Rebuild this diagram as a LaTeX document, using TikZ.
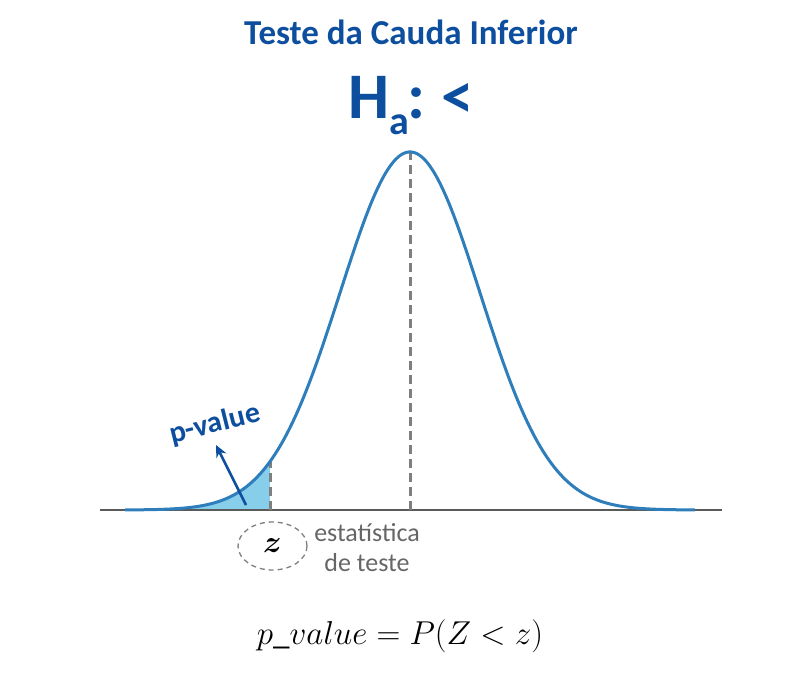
\documentclass[tikz,border=0pt]{standalone}
\usepackage{fontspec}
\usepackage{amsmath}
\setmainfont{Carlito}
\usetikzlibrary{arrows.meta,shapes.geometric}
\definecolor{titleblue}{HTML}{0D4F9E}
\definecolor{curveblue}{HTML}{2E7EBB}
\definecolor{tailfill}{HTML}{87CEEB}
\definecolor{axisgray}{HTML}{5A5A5A}
\definecolor{dashgray}{HTML}{7F7F7F}
\definecolor{txtgray}{HTML}{666666}
\tikzset{
  curve/.style={curveblue, line width=3pt},
  guide/.style={dashgray, line width=3pt, dash pattern=on 9pt off 5pt},
  axisline/.style={axisgray, line width=1.5pt},
  titletxt/.style={text=titleblue, font=\bfseries\fontsize{35}{40}\selectfont},
  grayTxt/.style={text=txtgray, font=\fontsize{26}{30}\selectfont, align=center},
}
\begin{document}
\begin{tikzpicture}[x=1pt,y=-1pt]
\useasboundingbox (0,0) rectangle (800,672);
% tail fill
\fill[tailfill] plot[domain=-4.07:-2, samples=80] ({410+70*\x},{510-358*exp(-(\x)^2/2)}) -- (270,510) -- (125,510) -- cycle;
% axis
\draw[axisline] (100,510) coordinate (axL) -- (722,510) coordinate (axR);
% guides
\coordinate (ztop) at (270,462);
\coordinate (zbot) at (270,510);
\coordinate (mtop) at (410,152);
\coordinate (mbot) at (410,510);
\draw[guide] (zbot) -- (ztop);
\draw[guide] (mbot) -- (mtop);
% curve
\draw[curve] plot[domain=-4.07:4.07, samples=240] ({410+70*\x},{510-358*exp(-(\x)^2/2)});
% title
\node[titletxt] (title) at (411,32) {Teste da Cauda Inferior};
\node[text=titleblue, font=\bfseries\fontsize{65}{70}\selectfont, anchor=base] (ha) at (411,118) {H\raisebox{-0.26em}{\fontsize{40}{44}\selectfont a}\kern-0.02em:\kern0.25em<};
% p-value
\node[text=titleblue, font=\bfseries\fontsize{30}{32}\selectfont, rotate=14] (pv) at (215,424) {p-value};
\coordinate (pvtail) at (246,505);
\coordinate (pvhead) at (216,445);
\draw[titleblue, line width=2.6pt, -{Stealth[length=12pt,width=11pt]}] (pvtail) -- (pvhead);
% z ellipse
\node[ellipse, draw=dashgray, line width=1.3pt, dash pattern=on 5pt off 4pt, minimum width=69pt, minimum height=48pt, inner sep=0pt] (zell) at (272.5,546) {};
\node[font=\fontsize{24.88}{28}\selectfont] (zlab) at (zell.center) {\scalebox{1.25}{$\boldsymbol{z}$}};
\node[grayTxt] (stat) at (367,548) {estatística\\de teste};
% formula
\node[font=\fontsize{24.88}{30}\selectfont] (formula) at (400,636) {\scalebox{1.33}{$p\_value = P(Z < z)$}};
\end{tikzpicture}
\end{document}
